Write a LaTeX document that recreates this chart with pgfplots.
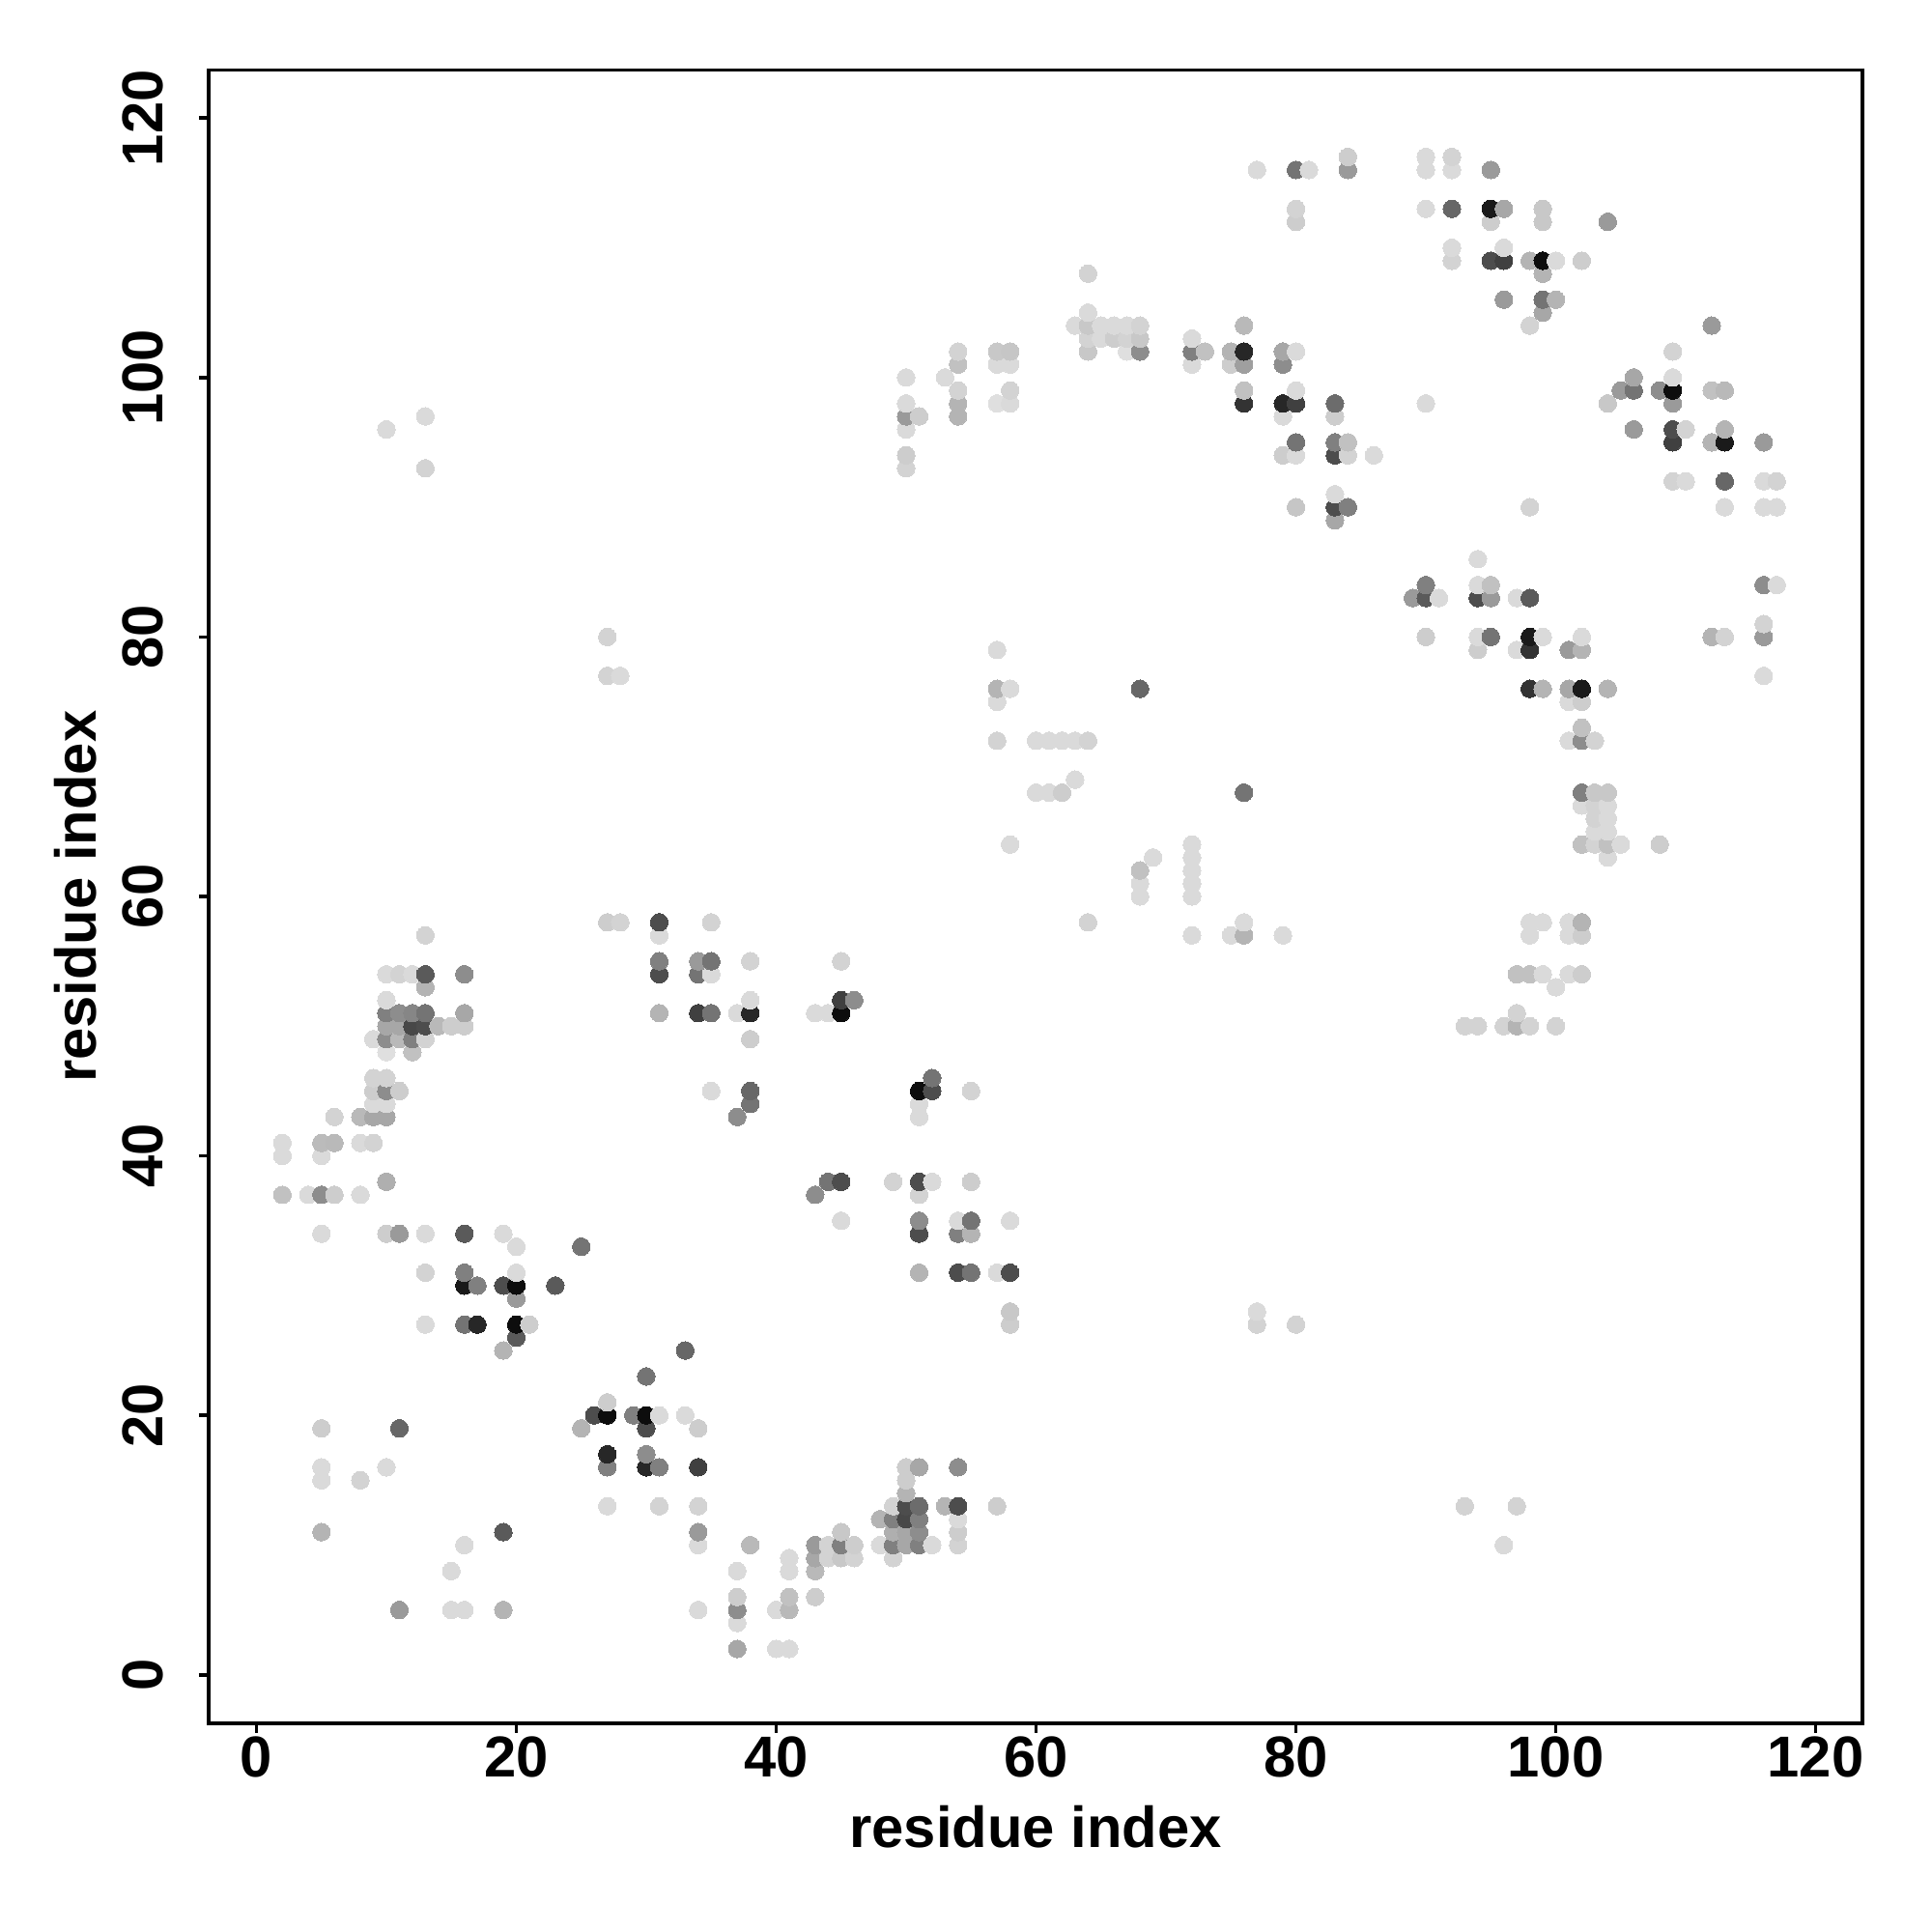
\documentclass[border=0pt]{standalone}
\usepackage{fontspec}
\setmainfont{Liberation Sans}
\usepackage{pgfplots}
\usepackage{pgfplotstable}
\pgfplotsset{compat=1.18}
\pgfplotstableread[row sep=\\]{
x y g\\
2 37 .75\\ 2 40 .85\\ 2 41 .85\\
4 37 .85\\
5 11 .7\\ 5 15 .85\\ 5 16 .85\\ 5 19 .8\\ 5 34 .85\\ 5 37 .55\\ 5 40 .85\\ 5 41 .73\\
6 37 .8\\ 6 41 .72\\ 6 43 .82\\
8 15 .82\\ 8 37 .85\\ 8 41 .85\\ 8 43 .72\\
9 41 .82\\ 9 43 .65\\ 9 44 .85\\ 9 45 .8\\ 9 46 .82\\ 9 49 .85\\
10 16 .85\\ 10 34 .8\\ 10 38 .68\\ 10 43 .65\\ 10 44 .85\\ 10 45 .55\\ 10 46 .82\\ 10 48 .87\\ 10 49 .55\\ 10 50 .65\\ 10 51 .5\\ 10 52 .85\\ 10 54 .85\\ 10 96 .85\\
11 5 .6\\ 11 19 .4\\ 11 34 .6\\ 11 45 .8\\ 11 49 .72\\ 11 50 .65\\ 11 51 .55\\ 11 54 .82\\
12 48 .75\\ 12 49 .5\\ 12 50 .28\\ 12 51 .52\\ 12 54 .85\\
13 27 .85\\ 13 31 .82\\ 13 34 .85\\ 13 49 .82\\ 13 50 .3\\ 13 51 .45\\ 13 53 .7\\ 13 54 .35\\ 13 57 .82\\ 13 93 .82\\ 13 97 .85\\
14 50 .72\\
15 5 .85\\ 15 8 .85\\ 15 50 .8\\
16 5 .85\\ 16 10 .85\\ 16 27 .45\\ 16 30 .1\\ 16 31 .5\\ 16 34 .35\\ 16 50 .8\\ 16 51 .65\\ 16 54 .55\\
17 27 .15\\ 17 30 .5\\
19 5 .7\\ 19 11 .35\\ 19 25 .7\\ 19 30 .3\\ 19 34 .85\\
20 26 .35\\ 20 27 .05\\ 20 29 .6\\ 20 30 .05\\ 20 31 .85\\ 20 33 .85\\
21 27 .8\\
23 30 .35\\
25 19 .7\\ 25 33 .45\\
26 20 .3\\
27 13 .85\\ 27 16 .5\\ 27 17 .15\\ 27 20 .05\\ 27 21 .8\\ 27 58 .8\\ 27 77 .82\\ 27 80 .82\\
28 58 .82\\ 28 77 .85\\
29 20 .5\\
30 16 .15\\ 30 17 .55\\ 30 19 .3\\ 30 20 .05\\ 30 23 .45\\
31 13 .82\\ 31 16 .5\\ 31 20 .85\\ 31 51 .7\\ 31 54 .3\\ 31 55 .5\\ 31 57 .85\\ 31 58 .3\\
33 20 .85\\ 33 25 .4\\
34 5 .85\\ 34 10 .85\\ 34 11 .6\\ 34 13 .82\\ 34 16 .25\\ 34 19 .8\\ 34 51 .25\\ 34 54 .45\\ 34 55 .6\\
35 45 .85\\ 35 51 .45\\ 35 54 .85\\ 35 55 .45\\ 35 58 .82\\
37 2 .65\\ 37 4 .85\\ 37 5 .55\\ 37 6 .8\\ 37 8 .85\\ 37 43 .55\\ 37 51 .85\\
38 10 .72\\ 38 44 .45\\ 38 45 .4\\ 38 49 .8\\ 38 51 .15\\ 38 52 .85\\ 38 55 .82\\
40 2 .85\\ 40 5 .85\\
41 2 .85\\ 41 5 .72\\ 41 6 .75\\ 41 8 .85\\ 41 9 .85\\
43 6 .8\\ 43 8 .72\\ 43 9 .65\\ 43 10 .6\\ 43 37 .55\\ 43 51 .85\\
44 9 .82\\ 44 10 .82\\ 44 38 .45\\ 44 51 .85\\
45 9 .78\\ 45 10 .5\\ 45 11 .78\\ 45 35 .85\\ 45 38 .3\\ 45 51 .05\\ 45 52 .25\\ 45 55 .82\\
46 9 .82\\ 46 10 .8\\ 46 52 .55\\
48 10 .85\\ 48 12 .7\\
49 9 .82\\ 49 10 .5\\ 49 11 .68\\ 49 12 .5\\ 49 13 .82\\ 49 38 .82\\
50 10 .65\\ 50 11 .65\\ 50 12 .28\\ 50 13 .3\\ 50 14 .7\\ 50 15 .8\\ 50 16 .8\\ 50 93 .82\\ 50 94 .8\\ 50 96 .85\\ 50 97 .6\\ 50 98 .85\\ 50 100 .85\\
51 10 .5\\ 51 11 .55\\ 51 12 .5\\ 51 13 .42\\ 51 16 .65\\ 51 31 .7\\ 51 34 .3\\ 51 35 .55\\ 51 37 .82\\ 51 38 .3\\ 51 43 .85\\ 51 44 .85\\ 51 45 .05\\ 51 97 .8\\
52 10 .85\\ 52 38 .85\\ 52 45 .3\\ 52 46 .45\\
53 13 .7\\ 53 100 .85\\
54 10 .82\\ 54 11 .8\\ 54 12 .85\\ 54 13 .3\\ 54 16 .55\\ 54 31 .3\\ 54 34 .5\\ 54 35 .85\\ 54 97 .7\\ 54 98 .7\\ 54 99 .82\\ 54 101 .75\\ 54 102 .82\\
55 31 .45\\ 55 34 .7\\ 55 35 .45\\ 55 38 .8\\ 55 45 .82\\
57 13 .8\\ 57 31 .85\\ 57 72 .82\\ 57 75 .85\\ 57 76 .7\\ 57 79 .85\\ 57 98 .87\\ 57 101 .85\\ 57 102 .78\\
58 27 .8\\ 58 28 .78\\ 58 31 .3\\ 58 35 .85\\ 58 64 .85\\ 58 76 .85\\ 58 98 .85\\ 58 99 .82\\ 58 101 .85\\ 58 102 .77\\
60 68 .85\\ 60 72 .85\\
61 68 .85\\ 61 72 .85\\
62 68 .8\\ 62 72 .85\\
63 69 .85\\ 63 72 .85\\ 63 104 .85\\
64 58 .82\\ 64 72 .82\\ 64 102 .78\\ 64 103 .82\\ 64 104 .78\\ 64 105 .85\\ 64 108 .82\\
65 103 .85\\ 65 104 .85\\
66 103 .8\\ 66 104 .85\\
67 102 .87\\ 67 103 .82\\ 67 104 .85\\
68 60 .85\\ 68 61 .85\\ 68 62 .75\\ 68 76 .4\\ 68 102 .55\\ 68 103 .78\\ 68 104 .82\\
69 63 .85\\
72 57 .85\\ 72 60 .85\\ 72 61 .85\\ 72 62 .85\\ 72 63 .85\\ 72 64 .85\\ 72 101 .85\\ 72 102 .5\\ 72 103 .85\\
73 102 .75\\
75 57 .85\\ 75 101 .8\\ 75 102 .7\\
76 57 .7\\ 76 58 .85\\ 76 68 .45\\ 76 98 .2\\ 76 99 .75\\ 76 101 .62\\ 76 102 .15\\ 76 104 .72\\
77 27 .82\\ 77 28 .85\\ 77 116 .85\\
79 57 .85\\ 79 94 .8\\ 79 97 .85\\ 79 98 .15\\ 79 101 .55\\ 79 102 .65\\
80 27 .82\\ 80 90 .77\\ 80 94 .85\\ 80 95 .45\\ 80 98 .25\\ 80 99 .85\\ 80 102 .85\\ 80 112 .8\\ 80 113 .82\\ 80 116 .45\\
81 116 .85\\
83 89 .65\\ 83 90 .3\\ 83 91 .85\\ 83 94 .3\\ 83 95 .5\\ 83 97 .8\\ 83 98 .42\\
84 90 .5\\ 84 94 .82\\ 84 95 .75\\ 84 116 .6\\ 84 117 .8\\
86 94 .85\\
89 83 .6\\
90 80 .8\\ 90 83 .35\\ 90 84 .5\\ 90 98 .85\\ 90 113 .85\\ 90 116 .85\\ 90 117 .85\\
91 83 .85\\
92 109 .82\\ 92 110 .85\\ 92 113 .4\\ 92 116 .85\\ 92 117 .82\\
93 13 .82\\ 93 50 .82\\
94 50 .82\\ 94 79 .8\\ 94 80 .85\\ 94 83 .3\\ 94 84 .85\\ 94 86 .85\\
95 80 .45\\ 95 83 .6\\ 95 84 .75\\ 95 109 .3\\ 95 112 .8\\ 95 113 .1\\ 95 116 .6\\
96 10 .85\\ 96 50 .82\\ 96 106 .6\\ 96 109 .25\\ 96 110 .85\\ 96 113 .65\\
97 13 .82\\ 97 50 .7\\ 97 51 .82\\ 97 54 .75\\ 97 79 .85\\ 97 83 .85\\
98 50 .82\\ 98 54 .75\\ 98 57 .85\\ 98 58 .85\\ 98 76 .2\\ 98 79 .2\\ 98 80 .1\\ 98 83 .35\\ 98 90 .82\\ 98 104 .82\\ 98 109 .7\\
99 54 .85\\ 99 58 .85\\ 99 76 .7\\ 99 80 .85\\ 99 105 .65\\ 99 106 .45\\ 99 108 .7\\ 99 109 .05\\ 99 112 .78\\ 99 113 .78\\
100 50 .82\\ 100 53 .85\\ 100 106 .7\\ 100 109 .85\\
101 54 .85\\ 101 57 .85\\ 101 58 .85\\ 101 72 .85\\ 101 75 .85\\ 101 76 .65\\ 101 79 .6\\
102 54 .8\\ 102 57 .8\\ 102 58 .7\\ 102 64 .75\\ 102 67 .85\\ 102 68 .5\\ 102 72 .55\\ 102 73 .75\\ 102 75 .8\\ 102 76 .1\\ 102 79 .7\\ 102 80 .85\\ 102 109 .8\\
103 64 .82\\ 103 65 .85\\ 103 66 .82\\ 103 67 .82\\ 103 68 .78\\ 103 72 .82\\
104 63 .85\\ 104 64 .75\\ 104 65 .85\\ 104 66 .85\\ 104 67 .85\\ 104 68 .78\\ 104 76 .7\\ 104 98 .78\\ 104 112 .6\\
105 64 .85\\ 105 99 .6\\
106 96 .6\\ 106 99 .45\\ 106 100 .65\\
108 64 .8\\ 108 99 .55\\
109 92 .82\\ 109 95 .25\\ 109 96 .3\\ 109 98 .6\\ 109 99 .05\\ 109 100 .85\\ 109 102 .82\\
110 92 .85\\ 110 96 .82\\
112 80 .7\\ 112 95 .7\\ 112 99 .75\\ 112 104 .6\\
113 80 .82\\ 113 90 .85\\ 113 92 .4\\ 113 95 .1\\ 113 96 .7\\ 113 99 .72\\
116 77 .85\\ 116 80 .6\\ 116 81 .82\\ 116 84 .55\\ 116 90 .85\\ 116 92 .85\\ 116 95 .6\\
117 84 .85\\ 117 90 .85\\ 117 92 .82\\
}\contacts
\begin{document}
\begin{tikzpicture}
\path[use as bounding box] (0,0) rectangle (20cm,20cm);
\begin{axis}[
  at={(2.16cm,2.16cm)}, anchor=south west,
  scale only axis, width=17.12cm, height=17.115cm,
  xmin=-3.68, xmax=123.6, ymin=-3.74, ymax=123.7,
  xtick={0,20,...,120}, ytick={0,20,...,120},
  tick align=outside, tick pos=left,
  major tick length=0.1cm,
  axis line style={line width=1pt},
  every tick/.style={black, line width=1pt},
  /pgf/number format/assume math mode=true,
  tick label style={font=\fontsize{17}{19}\selectfont\bfseries},
  xticklabel style={anchor=north, inner sep=0pt, yshift=-0.03cm},
  yticklabel style={rotate=90, anchor=south, inner sep=0pt, yshift=0.36cm},
  label style={font=\fontsize{17}{19}\selectfont\bfseries},
  xlabel={residue index}, ylabel={residue index},
  xlabel style={at={(axis description cs:0.5,-0.0752)}, anchor=base},
  ylabel style={at={(axis description cs:-0.0683,0.5)}, anchor=base},
  colormap={grays}{gray(0cm)=(0); gray(1cm)=(1)},
  point meta min=0, point meta max=1,
]
\addplot[scatter, only marks, mark=*, mark size=2.6pt,
  scatter/use mapped color={draw=mapped color, fill=mapped color},
  mark options={line width=0pt},
  point meta=explicit]
  table[x=x, y=y, meta=g] {\contacts};
\end{axis}
\end{tikzpicture}
\end{document}
